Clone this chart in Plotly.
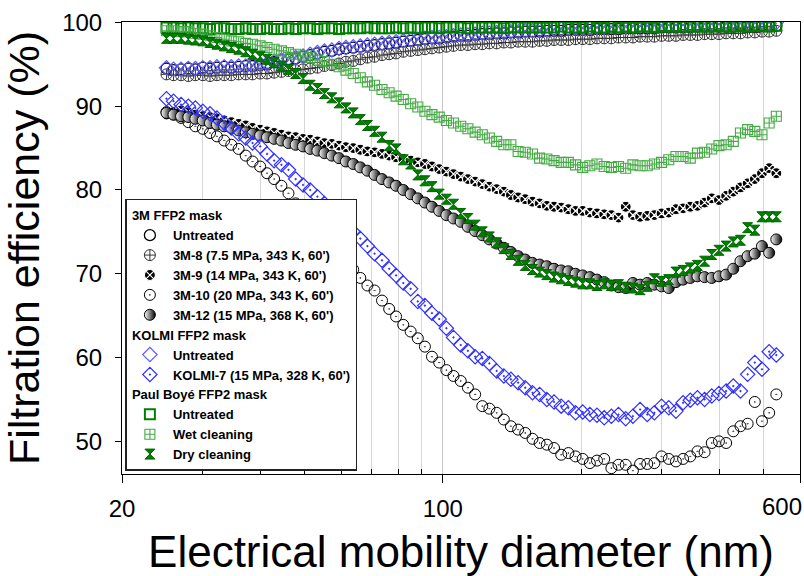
import math
import plotly.graph_objects as go

# Electrical mobility diameter (nm) - SMPS channel midpoints
diameter = [25.0, 25.9, 26.9, 27.9, 28.9, 30.0, 31.1, 32.2, 33.4, 34.6,
            35.9, 37.2, 38.5, 40.0, 41.4, 42.9, 44.5, 46.1, 47.8, 49.6,
            51.4, 53.3, 55.2, 57.3, 59.4, 61.5, 63.8, 66.1, 68.5, 71.0,
            73.7, 76.4, 79.1, 82.0, 85.1, 88.2, 91.4, 94.7, 98.2, 101.8,
            105.5, 109.4, 113.4, 117.6, 121.9, 126.3, 131.0, 135.8, 140.7, 145.9,
            151.2, 156.8, 162.5, 168.5, 174.7, 181.1, 187.7, 194.6, 201.7, 209.1,
            216.7, 224.7, 232.9, 241.4, 250.3, 259.5, 269.0, 278.8, 289.0, 299.6,
            310.6, 322.0, 333.8, 346.0, 358.7, 371.8, 385.4, 399.5, 414.2, 429.4,
            445.1, 461.4, 478.3, 495.8, 514.0, 532.8]

m3_untreated = [94.5, 94.3, 94.4, 94.5, 94.4, 94.6, 94.5, 94.6, 94.7, 94.6, 94.7, 94.8, 94.8, 94.9, 95.0, 95.3, 95.5, 95.6, 95.7, 95.9,
                96.1, 96.3, 96.5, 96.6, 96.8, 96.9, 97.0, 97.1, 97.2, 97.3, 97.4, 97.5, 97.6, 97.7, 97.8, 97.9, 98.0, 98.1, 98.1, 98.2,
                98.3, 98.4, 98.4, 98.5, 98.6, 98.6, 98.7, 98.7, 98.8, 98.8, 98.9, 98.9, 98.9, 99.0, 99.0, 99.0, 99.1, 99.1, 99.1, 99.1,
                99.2, 99.2, 99.2, 99.2, 99.3, 99.3, 99.3, 99.3, 99.3, 99.4, 99.4, 99.4, 99.4, 99.4, 99.5, 99.5, 99.5, 99.5, 99.5, 99.5,
                99.6, 99.6, 99.6, 99.6, 99.6, 99.6]
m3_8 = [93.8, 93.7, 93.7, 93.6, 93.7, 93.7, 93.6, 93.7, 93.7, 93.7, 93.8, 93.8, 93.8, 93.9, 93.9, 94.0, 94.1, 94.2, 94.3, 94.4,
        94.5, 94.6, 94.8, 94.9, 95.1, 95.3, 95.4, 95.6, 95.8, 95.9, 96.1, 96.2, 96.3, 96.5, 96.6, 96.7, 96.8, 96.9, 97.0, 97.1,
        97.2, 97.3, 97.3, 97.4, 97.4, 97.5, 97.5, 97.6, 97.6, 97.7, 97.7, 97.7, 97.8, 97.8, 97.9, 97.9, 97.9, 98.0, 98.0, 98.0,
        98.1, 98.1, 98.1, 98.2, 98.2, 98.2, 98.3, 98.3, 98.3, 98.4, 98.4, 98.4, 98.5, 98.5, 98.5, 98.6, 98.6, 98.6, 98.7, 98.7,
        98.7, 98.8, 98.8, 98.9, 98.9, 99.0]
m3_9 = [89.0, 89.3, 89.5, 89.3, 89.0, 88.8, 88.7, 88.5, 88.3, 88.1, 87.9, 87.7, 87.4, 87.2, 87.0, 86.8, 86.6, 86.4, 86.3, 86.1,
        86.0, 85.8, 85.6, 85.5, 85.3, 85.1, 85.0, 84.8, 84.6, 84.5, 84.3, 84.1, 83.9, 83.7, 83.5, 83.3, 83.1, 82.8, 82.5, 82.2,
        81.9, 81.6, 81.3, 81.0, 80.7, 80.4, 80.1, 79.8, 79.4, 79.1, 78.9, 78.6, 78.4, 78.1, 78.0, 77.9, 77.7, 77.5, 77.5, 77.3,
        77.2, 77.1, 77.0, 76.7, 78.0, 77.0, 76.8, 76.9, 77.0, 77.2, 77.3, 77.7, 77.8, 78.0, 78.1, 78.5, 79.0, 78.8, 79.3, 79.8,
        80.3, 80.8, 81.3, 82.0, 82.6, 82.0]
m3_10 = [89.3, 89.0, 88.6, 88.1, 87.6, 87.3, 86.8, 86.4, 85.9, 85.4, 84.9, 84.1, 83.4, 82.8, 82.0, 81.3, 80.5, 79.6, 78.4, 77.6,
         76.6, 75.6, 74.6, 73.6, 72.6, 71.5, 70.5, 69.5, 68.6, 68.0, 66.8, 65.8, 64.9, 63.9, 63.1, 62.3, 61.3, 60.1, 59.4, 58.5,
         57.8, 57.2, 56.4, 55.6, 54.2, 53.9, 53.4, 52.6, 51.8, 51.4, 51.0, 50.3, 49.8, 49.6, 49.2, 48.4, 48.6, 48.2, 47.9, 47.4,
         47.7, 47.9, 46.8, 47.2, 47.2, 46.5, 47.3, 47.3, 47.4, 48.2, 47.9, 47.6, 47.9, 48.2, 48.8, 48.7, 49.8, 50.0, 49.8, 51.2,
         51.8, 52.1, 54.7, 52.4, 53.4, 55.6]
m3_12 = [89.2, 89.0, 88.8, 88.7, 88.5, 88.3, 88.0, 87.8, 87.6, 87.4, 87.1, 86.9, 86.7, 86.5, 86.3, 86.1, 85.9, 85.6, 85.4, 85.2,
         84.9, 84.7, 84.4, 84.1, 83.8, 83.4, 83.1, 82.7, 82.3, 81.8, 81.3, 80.9, 80.5, 80.0, 79.5, 79.0, 78.5, 78.0, 77.5, 77.0,
         76.6, 76.2, 75.6, 75.1, 74.6, 74.1, 73.6, 73.1, 72.6, 72.1, 71.7, 71.3, 71.1, 70.9, 70.6, 70.4, 70.3, 70.0, 69.8, 69.6,
         69.3, 69.0, 68.6, 68.4, 68.3, 68.9, 68.7, 68.9, 68.7, 68.5, 68.3, 69.0, 69.3, 69.5, 69.7, 69.6, 69.5, 69.7, 69.9, 70.6,
         71.5, 72.1, 72.4, 73.3, 72.5, 74.1]
kolmi_untreated = [94.6, 94.4, 94.4, 94.5, 94.5, 94.6, 94.6, 94.7, 94.7, 94.7, 94.8, 94.8, 94.9, 95.0, 95.1, 95.3, 95.5, 95.7, 95.8, 96.0,
                   96.2, 96.4, 96.6, 96.7, 96.9, 97.0, 97.1, 97.2, 97.3, 97.4, 97.5, 97.6, 97.7, 97.8, 97.9, 98.0, 98.1, 98.2, 98.2, 98.3,
                   98.4, 98.5, 98.5, 98.6, 98.7, 98.7, 98.8, 98.8, 98.9, 98.9, 99.0, 99.0, 99.1, 99.1, 99.2, 99.2, 99.3, 99.3, 99.3, 99.4,
                   99.4, 99.4, 99.5, 99.5, 99.5, 99.5, 99.6, 99.6, 99.6, 99.7, 99.7, 99.7, 99.7, 99.7, 99.8, 99.8, 99.8, 99.8, 99.8, 99.9,
                   99.9, 99.9, 99.9, 100.0, 99.9, 100.0]
kolmi_7 = [90.9, 90.6, 90.2, 90.0, 89.8, 89.4, 89.1, 88.6, 88.0, 87.4, 86.7, 86.2, 85.6, 85.2, 84.3, 83.5, 83.0, 82.4, 81.3, 80.6,
           80.0, 79.2, 78.4, 77.6, 76.8, 75.9, 75.0, 74.2, 73.3, 72.4, 71.6, 70.6, 69.8, 68.9, 68.2, 66.7, 66.2, 65.3, 64.6, 63.5,
           62.4, 61.5, 60.8, 60.1, 59.9, 59.3, 58.4, 57.8, 57.4, 57.0, 56.4, 55.8, 55.6, 55.0, 54.7, 54.2, 54.0, 53.4, 53.5, 53.2,
           53.1, 52.8, 53.0, 53.2, 52.7, 53.0, 53.8, 53.2, 53.4, 54.2, 54.0, 53.6, 54.6, 54.9, 55.2, 55.0, 55.4, 55.7, 56.0, 56.6,
           56.0, 58.0, 59.4, 58.6, 60.7, 60.3]
pb_untreated = [99.4, 99.4, 99.3, 99.4, 99.3, 99.3, 99.2, 99.3, 99.3, 99.2, 99.2, 99.3, 99.2, 99.2, 99.3, 99.2, 99.2, 99.3, 99.2, 99.3,
                99.3, 99.2, 99.3, 99.3, 99.2, 99.3, 99.3, 99.3, 99.4, 99.3, 99.3, 99.3, 99.4, 99.3, 99.4, 99.3, 99.4, 99.4, 99.3, 99.4,
                99.4, 99.4, 99.3, 99.4, 99.4, 99.4, 99.4, 99.3, 99.4, 99.4, 99.4, 99.4, 99.4, 99.4, 99.4, 99.5, 99.4, 99.4, 99.4, 99.5,
                99.4, 99.4, 99.5, 99.4, 99.5, 99.4, 99.5, 99.5, 99.4, 99.5, 99.5, 99.5, 99.5, 99.5, 99.5, 99.5, 99.5, 99.6, 99.5, 99.5,
                99.6, 99.5, 99.6, 99.6, 99.5, 99.6]
pb_wet = [99.0, 99.0, 98.9, 98.9, 98.7, 98.6, 98.4, 98.2, 98.0, 97.8, 97.7, 97.5, 97.4, 97.2, 97.0, 96.8, 96.6, 96.4, 96.2, 96.0,
          95.8, 95.5, 95.3, 95.0, 94.7, 94.3, 93.9, 93.4, 92.9, 92.5, 92.0, 91.6, 91.2, 90.8, 90.3, 89.9, 89.4, 89.0, 88.7, 88.3,
          88.0, 87.6, 87.3, 86.9, 86.6, 86.2, 85.8, 85.4, 85.4, 84.6, 84.5, 84.3, 83.8, 83.7, 83.5, 83.3, 83.3, 83.0, 82.7, 82.9,
          83.1, 82.8, 82.7, 82.8, 82.6, 83.0, 82.9, 82.9, 83.1, 83.3, 83.6, 84.0, 84.0, 83.8, 84.4, 84.5, 84.9, 85.3, 85.4, 85.8,
          86.8, 87.2, 87.0, 86.6, 88.0, 88.8]
pb_dry = [98.1, 98.1, 98.1, 98.0, 97.9, 97.8, 97.6, 97.4, 97.2, 97.0, 96.8, 96.5, 96.2, 95.9, 95.6, 95.2, 94.8, 94.4, 93.9, 93.3,
          92.5, 92.1, 91.5, 91.0, 90.4, 89.8, 89.2, 88.4, 87.7, 87.0, 86.3, 85.3, 84.9, 83.6, 83.1, 81.8, 81.1, 80.4, 79.5, 78.9,
          78.3, 77.2, 76.6, 75.8, 75.0, 74.4, 73.7, 73.0, 72.3, 71.6, 71.0, 70.5, 70.2, 69.9, 69.6, 69.4, 69.2, 69.0, 68.8, 68.8,
          68.6, 68.8, 68.6, 68.7, 68.4, 68.3, 68.1, 68.5, 69.4, 69.1, 69.3, 70.2, 70.4, 70.7, 71.0, 71.5, 72.3, 72.8, 73.3, 73.8,
          74.0, 75.5, 75.2, 76.8, 76.8, 76.8]

y_ticks = [50, 60, 70, 80, 90, 100]
x_ticks = [20, 100, 600]
x_ticktext = ["20", "100", ""]
x_minor = [30, 40, 50, 60, 70, 80, 90, 200, 300, 400, 500]

FONT = "Liberation Sans, Arial, sans-serif"
GREEN = "#008000"
BLUE = "#3030ff"

series = [
    ("3M FFP2 mask", "Untreated", m3_untreated,
     dict(symbol="circle-open", size=11, color="black", line=dict(width=1.3, color="black"))),
    ("3M FFP2 mask", "3M-8 (7.5 MPa, 343 K, 60')", m3_8,
     dict(symbol="circle-cross-open", size=11, color="#333333", line=dict(width=1, color="#333333"))),
    ("3M FFP2 mask", "3M-9 (14 MPa, 343 K, 60')", m3_9,
     dict(symbol="circle-x", size=11, color="black", line=dict(width=1.2, color="white"))),
    ("3M FFP2 mask", "3M-10 (20 MPa, 343 K, 60')", m3_10,
     dict(symbol="circle-open-dot", size=11, color="black", line=dict(width=1, color="black"))),
    ("3M FFP2 mask", "3M-12 (15 MPa, 368 K, 60')", m3_12,
     dict(symbol="circle", size=11, color="white", gradient=dict(type="horizontal", color="black"),
          line=dict(width=1, color="black"))),
    ("KOLMI FFP2 mask", "Untreated", kolmi_untreated,
     dict(symbol="diamond-open", size=11, color="#5a5aff", line=dict(width=1.2, color="#5a5aff"))),
    ("KOLMI FFP2 mask", "KOLMI-7 (15 MPa, 328 K, 60')", kolmi_7,
     dict(symbol="diamond-open-dot", size=11, color=BLUE, line=dict(width=1.2, color=BLUE))),
    ("Paul Boyé FFP2 mask", "Untreated", pb_untreated,
     dict(symbol="square-open", size=10, color=GREEN, line=dict(width=2, color=GREEN))),
    ("Paul Boyé FFP2 mask", "Wet cleaning", pb_wet,
     dict(symbol="square-cross-open", size=10, color="#44aa44", line=dict(width=1.1, color="#44aa44"))),
    ("Paul Boyé FFP2 mask", "Dry cleaning", pb_dry,
     dict(symbol="hourglass", size=10, color=GREEN, line=dict(width=1, color="#006400"))),
]

fig = go.Figure()
seen = set()
for group, name, yvals, marker in series:
    kw = {}
    if group not in seen:
        kw["legendgrouptitle"] = dict(text=group, font=dict(family=FONT, size=13, color="black", weight="bold"))
        seen.add(group)
    fig.add_trace(go.Scatter(x=diameter, y=yvals, mode="markers", name=name,
                             legendgroup=group, marker=marker, **kw))

fig.update_layout(
    width=804, height=576,
    margin=dict(l=122, r=4, t=22, b=102),
    paper_bgcolor="white", plot_bgcolor="white",
    font=dict(family=FONT, color="black"),
    legend=dict(x=0.005, y=0.007, xanchor="left", yanchor="bottom",
                bgcolor="white", bordercolor="#222222", borderwidth=1.5,
                font=dict(family=FONT, size=13, color="black", weight="bold"),
                itemwidth=36,
                tracegroupgap=0, traceorder="grouped", itemclick=False, itemdoubleclick=False),
    xaxis=dict(type="log", range=[math.log10(20), math.log10(600)], automargin=False,
               tickmode="array", tickvals=x_ticks, ticktext=x_ticktext,
               ticks="outside", ticklen=8, tickcolor="black", tickwidth=1,
               tickfont=dict(family=FONT, size=24, color="black"), ticklabelstandoff=5,
               showline=True, linecolor="black", linewidth=1, mirror=True,
               showgrid=True, gridcolor="#c4c4c4", gridwidth=1,
               minor=dict(tickmode="array", tickvals=x_minor, ticks="inside", ticklen=5,
                          tickcolor="black", showgrid=True, gridcolor="#d6d6d6", gridwidth=1),
               title=dict(text="Electrical mobility diameter (nm)",
                          font=dict(family=FONT, size=44, color="black"), standoff=40)),
    yaxis=dict(range=[46.1, 100.05], tickmode="array", tickvals=y_ticks, automargin=False,
               ticks="outside", ticklen=6, tickcolor="black", tickwidth=1,
               tickfont=dict(family=FONT, size=24, color="black"), ticklabelstandoff=8,
               showline=True, linecolor="black", linewidth=1, mirror=True,
               showgrid=False, zeroline=False,
               title=dict(text="Filtration efficiency (%)",
                          font=dict(family=FONT, size=43, color="black"), standoff=12)),
    annotations=[dict(text="600", x=1, y=0, xref="paper", yref="paper",
                      xanchor="right", yanchor="middle", xshift=4, yshift=-32,
                      showarrow=False, font=dict(family=FONT, size=24, color="black"))],
)

fig.write_html("out.html")
